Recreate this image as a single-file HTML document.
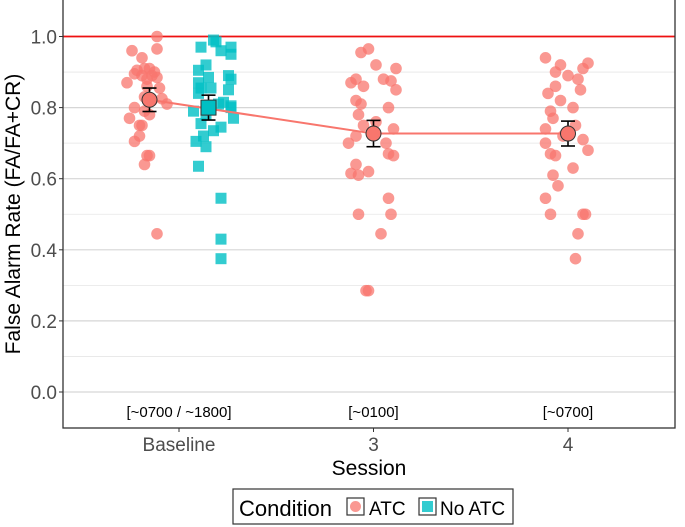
<!DOCTYPE html>
<html><head><meta charset="utf-8"><style>
body{margin:0;background:#fff;}
svg{display:block;font-family:"Liberation Sans",sans-serif;}
</style></head><body>
<svg id="chart" width="685" height="527"></svg>
<script>
const categories=["Baseline","3","4"];
const tickValues=[0,0.2,0.4,0.6,0.8,1.0];
const tickLabels=["0.0","0.2","0.4","0.6","0.8","1.0"];
const sessionNotes=["[~0700 / ~1800]","[~0100]","[~0700]"];
const baseAtc=[1.0,0.965,0.96,0.94,0.91,0.91,0.905,0.9,0.895,0.89,0.89,0.885,0.88,0.87,0.86,0.855,0.83,0.825,0.82,0.81,0.80,0.79,0.78,0.77,0.75,0.75,0.72,0.705,0.665,0.665,0.64,0.445];
const baseAtcJit=[0.03,0.03,-0.07,-0.03,-0.02,0.0,-0.05,0.02,-0.06,-0.03,0.01,0.03,-0.01,-0.09,-0.01,0.04,-0.02,0.05,0.01,0.07,-0.06,-0.02,0.0,-0.08,-0.04,-0.03,-0.04,-0.06,0.0,-0.01,-0.02,0.03];
const baseNo=[0.99,0.985,0.97,0.97,0.96,0.95,0.92,0.905,0.89,0.885,0.88,0.87,0.855,0.855,0.85,0.84,0.815,0.81,0.805,0.80,0.80,0.79,0.78,0.77,0.755,0.745,0.735,0.72,0.705,0.69,0.635,0.545,0.43,0.375];
const baseNoJit=[0.02,0.03,-0.03,0.09,0.05,0.09,-0.01,-0.04,0.08,0.0,0.09,-0.04,-0.03,0.01,0.08,-0.04,0.06,0.04,0.09,-0.01,0.09,-0.06,-0.01,0.1,-0.03,0.05,0.02,-0.02,-0.05,-0.01,-0.04,0.05,0.05,0.05];
const s3=[0.965,0.955,0.92,0.91,0.88,0.88,0.875,0.87,0.86,0.85,0.82,0.81,0.80,0.78,0.76,0.75,0.74,0.72,0.70,0.70,0.67,0.665,0.64,0.62,0.615,0.61,0.545,0.50,0.50,0.445,0.285,0.285];
const s3Jit=[-0.02,-0.05,0.01,0.09,-0.07,0.04,0.07,-0.09,-0.04,0.09,-0.07,-0.05,0.06,-0.06,0.01,-0.04,0.08,-0.07,0.05,-0.1,0.06,0.08,-0.07,-0.02,-0.09,-0.06,0.06,-0.06,0.07,0.03,-0.03,-0.02];
const s4=[0.94,0.925,0.92,0.91,0.90,0.89,0.88,0.86,0.85,0.84,0.82,0.80,0.79,0.77,0.75,0.74,0.72,0.71,0.70,0.68,0.67,0.665,0.63,0.61,0.58,0.545,0.50,0.50,0.50,0.445,0.375];
const s4Jit=[-0.09,0.08,-0.03,0.06,-0.05,0.0,0.04,-0.05,0.05,-0.08,-0.03,0.02,-0.07,-0.06,0.03,-0.09,-0.02,0.06,-0.09,0.08,-0.07,-0.05,0.02,-0.06,-0.04,-0.09,-0.07,0.06,0.07,0.04,0.03];
const meanCats=[0,1,2];
const meanAtc=[0.822,0.727,0.727];
const errAtc=[0.033,0.037,0.035];
const meanNo=[0.80];
const errNo=[0.035];
const NS="http://www.w3.org/2000/svg";
const svg=document.getElementById('chart');
const L=63,R=675,T=0,B=428;
const y=v=>392-v*355.5;
const x=i=>179+i*194.5;
const dodge=29.5;
const jitScale=250;
function el(t,a,p){const e=document.createElementNS(NS,t);for(const k in a)e.setAttribute(k,a[k]);(p||svg).appendChild(e);return e;}
function txt(s,a){const e=el('text',a);e.textContent=s;return e;}
for(let k=0;k<=10;k++){const v=k/10;const g=el('line',{x1:L,x2:R,y1:y(v),y2:y(v),stroke:k%2?'#e6e6e6':'#d6d6d6','stroke-width':k%2?0.8:1.2});

}
const rl=el('line',{x1:L,x2:R,y1:y(1),y2:y(1),stroke:'#ee1111','stroke-width':1.8});


function pts(vals,jit,cx,shape,col){vals.forEach((v,i)=>{const px=cx+jit[i]*jitScale,py=y(v);let p;
if(shape==='c')p=el('circle',{cx:px,cy:py,r:5.8,fill:col,'fill-opacity':0.75});
else p=el('rect',{x:px-5.5,y:py-5.5,width:11,height:11,fill:col,'fill-opacity':0.8});

});}
pts(baseAtc,baseAtcJit,x(0)-dodge,'c','#F8766D');
pts(baseNo,baseNoJit,x(0)+dodge,'s','#00BFC4');
pts(s3,s3Jit,x(1),'c','#F8766D');
pts(s4,s4Jit,x(2),'c','#F8766D');
const mx=i=>i===0?x(0)-dodge:x(i);
const ml=el('polyline',{points:meanCats.map(i=>mx(i)+','+y(meanAtc[i])).join(' '),fill:'none',stroke:'#F8766D','stroke-width':2});


function eb(cx,m,e,nm){const g=el('g',{});
el('line',{x1:cx,x2:cx,y1:y(m+e),y2:y(m-e),stroke:'#000','stroke-width':1.6},g);
el('line',{x1:cx-7,x2:cx+7,y1:y(m+e),y2:y(m+e),stroke:'#000','stroke-width':1.6},g);
el('line',{x1:cx-7,x2:cx+7,y1:y(m-e),y2:y(m-e),stroke:'#000','stroke-width':1.6},g);return g;}
meanCats.forEach(i=>{const g=eb(mx(i),meanAtc[i],errAtc[i],'atc-error-bar');el('circle',{cx:mx(i),cy:y(meanAtc[i]),r:7.5,fill:'#F8766D',stroke:'#333','stroke-width':1},g);});
meanNo.forEach((m,i)=>{const cx=x(i)+dodge;const g=eb(cx,m,errNo[i],'no-atc-error-bar');el('rect',{x:cx-7.5,y:y(m)-7.5,width:15,height:15,fill:'#00BFC4',stroke:'#333','stroke-width':1},g);});
sessionNotes.forEach((s,i)=>{const t=txt(s,{x:x(i),y:417,'font-size':15,'text-anchor':'middle',fill:'#000'});

});
const bd=el('rect',{x:L,y:T-1,width:R-L,height:B-T+1,fill:'none',stroke:'#333','stroke-width':1.3});


tickValues.forEach((v,i)=>{el('line',{x1:L-4,x2:L,y1:y(v),y2:y(v),stroke:'#333'});
const t=txt(tickLabels[i],{x:L-6,y:y(v)+7,'font-size':19,'text-anchor':'end',fill:'#4d4d4d'});

});
categories.forEach((c,i)=>{el('line',{x1:x(i),x2:x(i),y1:B,y2:B+4,stroke:'#333'});
const t=txt(c,{x:x(i),y:451,'font-size':19,'text-anchor':'middle',fill:'#4d4d4d'});

});
const yt=txt('False Alarm Rate (FA/FA+CR)',{x:0,y:0,'font-size':21,'text-anchor':'middle',fill:'#000',transform:'translate(20,214) rotate(-90)'});


const xt=txt('Session',{x:369,y:475,'font-size':21,'text-anchor':'middle',fill:'#000'});


const lg=el('g',{});


el('rect',{x:233,y:489,width:280,height:35,fill:'#fff',stroke:'#333','stroke-width':1.2},lg);
lg.appendChild(txt('Condition',{x:239,y:516,'font-size':22,fill:'#000'}));
el('rect',{x:347,y:498,width:17,height:17,fill:'#fff',stroke:'#333','stroke-width':1.2},lg);
el('circle',{cx:355.5,cy:506.5,r:5.5,fill:'#F8766D','fill-opacity':0.75},lg);
lg.appendChild(txt('ATC',{x:369,y:515,'font-size':19,fill:'#000'}));
el('rect',{x:419,y:498,width:17,height:17,fill:'#fff',stroke:'#333','stroke-width':1.2},lg);
el('rect',{x:422,y:501,width:11,height:11,fill:'#00BFC4','fill-opacity':0.8},lg);
lg.appendChild(txt('No ATC',{x:440,y:515,'font-size':19,fill:'#000'}));
</script>
</body></html>
